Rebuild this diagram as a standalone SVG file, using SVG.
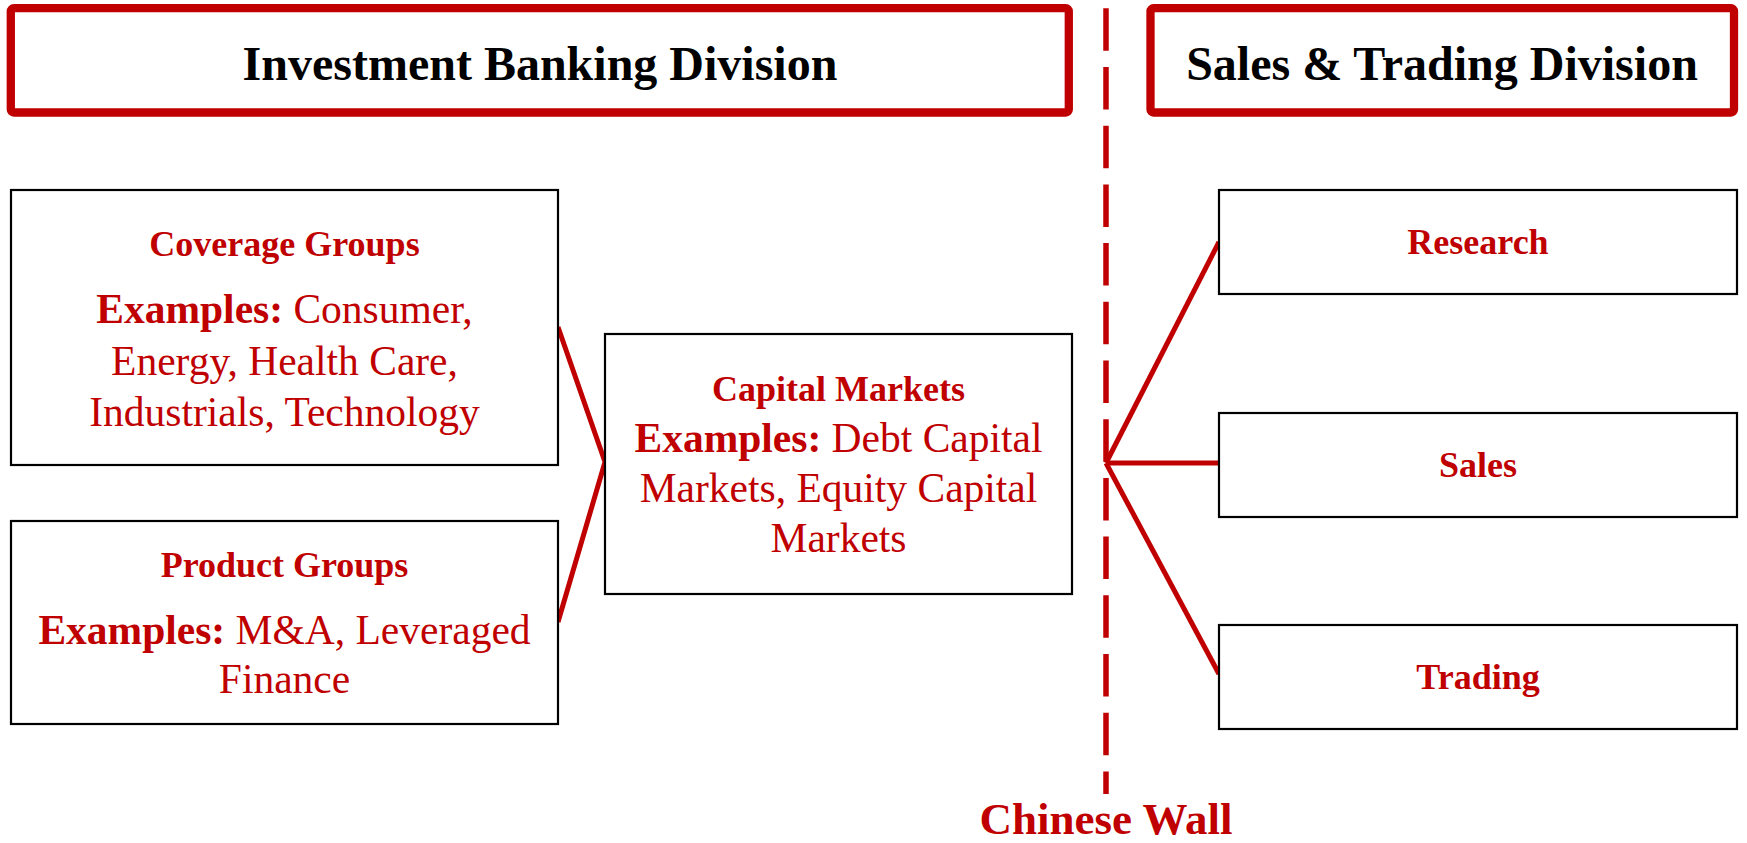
<svg xmlns="http://www.w3.org/2000/svg" width="1747" height="843" viewBox="0 0 1747 843">
<style>
.hdr{fill:#fff;stroke:#C00000;stroke-width:8.3}
.box{fill:#fff;stroke:#000;stroke-width:2.2}
.ht{font-family:"Liberation Serif",serif;font-weight:bold;font-size:48px;fill:#000;text-anchor:middle}
.t{font-family:"Liberation Serif",serif;font-weight:bold;font-size:36px;fill:#C00000;text-anchor:middle}
.b{font-family:"Liberation Serif",serif;font-size:41.5px;fill:#C00000;text-anchor:middle}
.b tspan.k{font-weight:bold}
.con{stroke:#C00000;stroke-width:5;fill:none}
.wall{stroke:#C00000;stroke-width:5.5;stroke-dasharray:42.5 16.2;fill:none}
.cw{font-family:"Liberation Serif",serif;font-weight:bold;font-size:45px;fill:#C00000;text-anchor:middle}
</style>
<rect width="1747" height="843" fill="#fff"/>
<g id="wall">
<line class="wall" x1="1106" y1="8.3" x2="1106" y2="794"/>
<text class="cw" x="1106" y="834">Chinese Wall</text>
</g>
<g id="ibd">
<rect class="hdr" x="10.8" y="8.2" width="1058" height="104.3" rx="3"/>
<text class="ht" x="540" y="80">Investment Banking Division</text>
</g>
<g id="std">
<rect class="hdr" x="1150.5" y="8.2" width="583.5" height="104.3" rx="3"/>
<text class="ht" x="1442" y="80">Sales &amp; Trading Division</text>
</g>
<g id="connectors">
<polyline class="con" points="558,327 605,462 558,622"/>
<line class="con" x1="1106" y1="463" x2="1219" y2="242"/>
<line class="con" x1="1106" y1="463" x2="1219" y2="463"/>
<line class="con" x1="1106" y1="463" x2="1219" y2="674"/>
</g>
<g id="coverage">
<rect class="box" x="11" y="190" width="547" height="275"/>
<text class="t" x="284.5" y="256">Coverage Groups</text>
<text class="b" x="284.5" y="323"><tspan class="k">Examples:</tspan> Consumer,</text>
<text class="b" x="284.5" y="375">Energy, Health Care,</text>
<text class="b" x="284.5" y="426">Industrials, Technology</text>
</g>
<g id="product">
<rect class="box" x="11" y="521" width="547" height="203"/>
<text class="t" x="284.5" y="577">Product Groups</text>
<text class="b" x="284.5" y="644"><tspan class="k">Examples:</tspan> M&amp;A, Leveraged</text>
<text class="b" x="284.5" y="693">Finance</text>
</g>
<g id="capital">
<rect class="box" x="605" y="334" width="467" height="260"/>
<text class="t" x="838.5" y="401">Capital Markets</text>
<text class="b" x="838.5" y="452"><tspan class="k">Examples:</tspan> Debt Capital</text>
<text class="b" x="838.5" y="502">Markets, Equity Capital</text>
<text class="b" x="838.5" y="552">Markets</text>
</g>
<g id="research">
<rect class="box" x="1219" y="190" width="518" height="104"/>
<text class="t" x="1478" y="254">Research</text>
</g>
<g id="sales">
<rect class="box" x="1219" y="413" width="518" height="104"/>
<text class="t" x="1478" y="477">Sales</text>
</g>
<g id="trading">
<rect class="box" x="1219" y="625" width="518" height="104"/>
<text class="t" x="1478" y="689">Trading</text>
</g>
</svg>
